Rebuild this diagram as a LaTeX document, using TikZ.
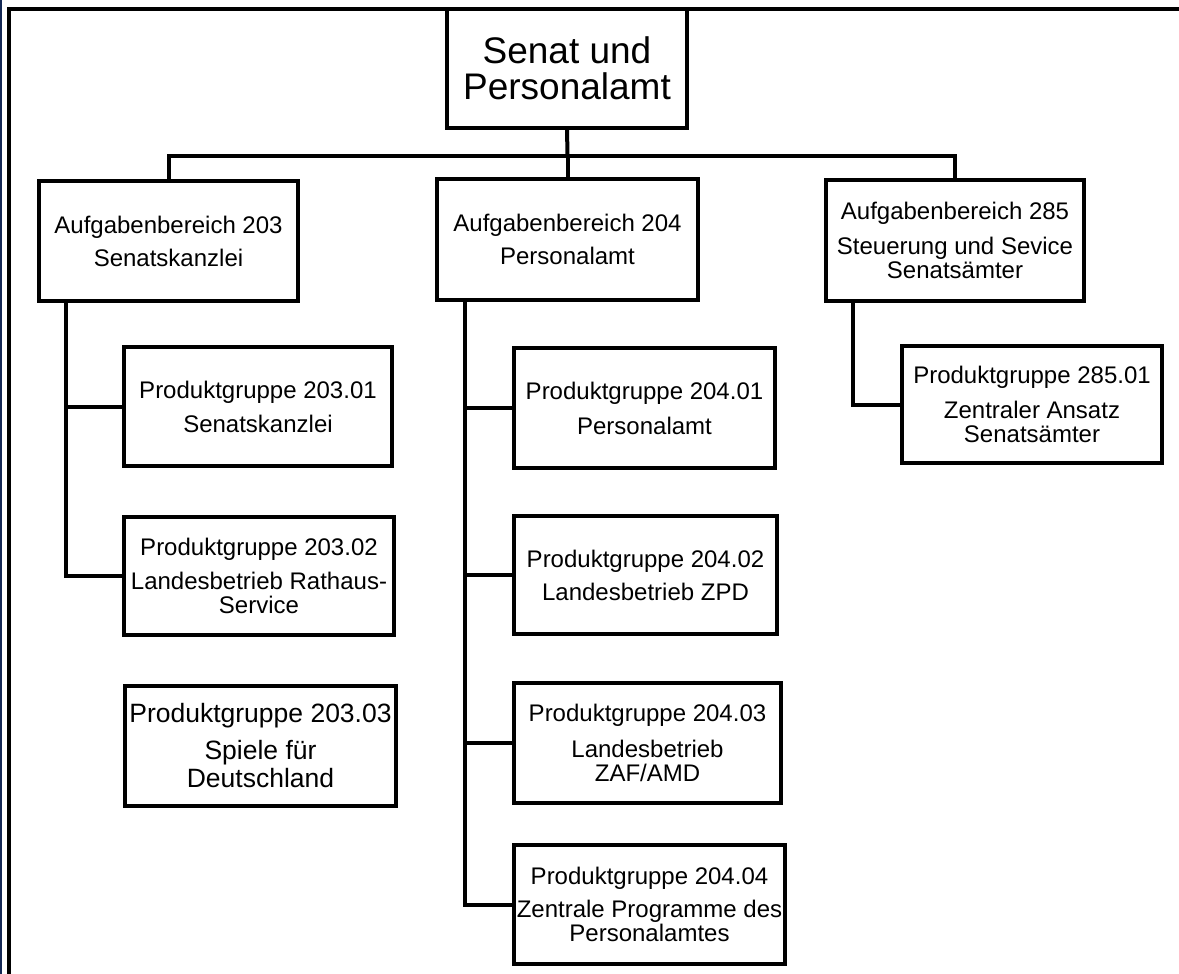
\documentclass[tikz,border=0pt]{standalone}
\usepackage{fontspec}
\setmainfont{Liberation Sans}
\definecolor{navyedge}{RGB}{20,40,85}
\begin{document}
\begin{tikzpicture}[x=1pt,y=-1pt,
  orgbox/.style={draw=black, line width=4pt, fill=white, rectangle, inner sep=0pt, outer sep=0pt,
    align=center, font=\fontsize{24}{24.5}\selectfont},
  link/.style={draw=black, line width=4pt}]
\useasboundingbox (0,0) rectangle (1179,974);
\clip (0,0) rectangle (1179,974);
\fill[white] (0,0) rectangle (1179,974);
% outer frame (open to the right and bottom)
\fill[navyedge] (0,0) rectangle (1.6,974);
\draw[link] (9,990) -- (9,9) -- (1200,9);

% nodes
\node[orgbox, minimum width=240pt, minimum height=119pt, font=\fontsize{37}{36}\selectfont] (top) at (567,68.5) {Senat und\\Personalamt};

\node[orgbox, minimum width=259pt, minimum height=120pt] (ab203) at (168.5,241) {Aufgabenbereich 203\\[8.5pt]Senatskanzlei};
\node[orgbox, minimum width=261pt, minimum height=121pt] (ab204) at (567.5,239.5) {Aufgabenbereich 204\\[8.5pt]Personalamt};
\node[orgbox, minimum width=258pt, minimum height=121pt] (ab285) at (955,240.5) {Aufgabenbereich 285\\[10.5pt]Steuerung und Sevice\\Senatsämter};

\node[orgbox, minimum width=268pt, minimum height=119pt] (pg20301) at (258,406.5) {Produktgruppe 203.01\\[9.5pt]Senatskanzlei};
\node[orgbox, minimum width=270pt, minimum height=118pt] (pg20302) at (259,576) {Produktgruppe 203.02\\[9.5pt]Landesbetrieb Rathaus-\\Service};
\node[orgbox, minimum width=271pt, minimum height=120pt, font=\fontsize{26.5}{28}\selectfont] (pg20303) at (260.5,746) {Produktgruppe 203.03\\[9pt]Spiele für\\Deutschland};

\node[orgbox, minimum width=261pt, minimum height=120pt] (pg20401) at (644.5,408) {Produktgruppe 204.01\\[10.5pt]Personalamt};
\node[orgbox, minimum width=263pt, minimum height=118pt] (pg20402) at (645.5,575) {Produktgruppe 204.02\\[8.5pt]Landesbetrieb ZPD};
\node[orgbox, minimum width=267pt, minimum height=120pt] (pg20403) at (647.5,743) {Produktgruppe 204.03\\[11.5pt]Landesbetrieb\\ZAF/AMD};
\node[orgbox, minimum width=271pt, minimum height=119pt] (pg20404) at (649.5,904.5) {Produktgruppe 204.04\\[8.5pt]Zentrale Programme des\\Personalamtes};

\node[orgbox, minimum width=260pt, minimum height=117pt] (pg28501) at (1032,404.5) {Produktgruppe 285.01\\[10.5pt]Zentraler Ansatz\\Senatsämter};

% connectors
\coordinate (bar) at (567.5,156);
\draw[link] (top.south) -- (bar);
\draw[link] (ab203.north) |- (bar) -| (ab285.north);
\draw[link] (bar) -- (ab204.north);

\draw[link] ([xshift=27pt]ab203.south west) |- (pg20301.west);
\draw[link] ([xshift=27pt]ab203.south west) |- (pg20302.west);

\draw[link] ([xshift=28pt]ab204.south west) |- (pg20401.west);
\draw[link] ([xshift=28pt]ab204.south west) |- (pg20402.west);
\draw[link] ([xshift=28pt]ab204.south west) |- (pg20403.west);
\draw[link] ([xshift=28pt]ab204.south west) |- (pg20404.west);

\draw[link] ([xshift=27pt]ab285.south west) |- (pg28501.west);
\end{tikzpicture}
\end{document}
